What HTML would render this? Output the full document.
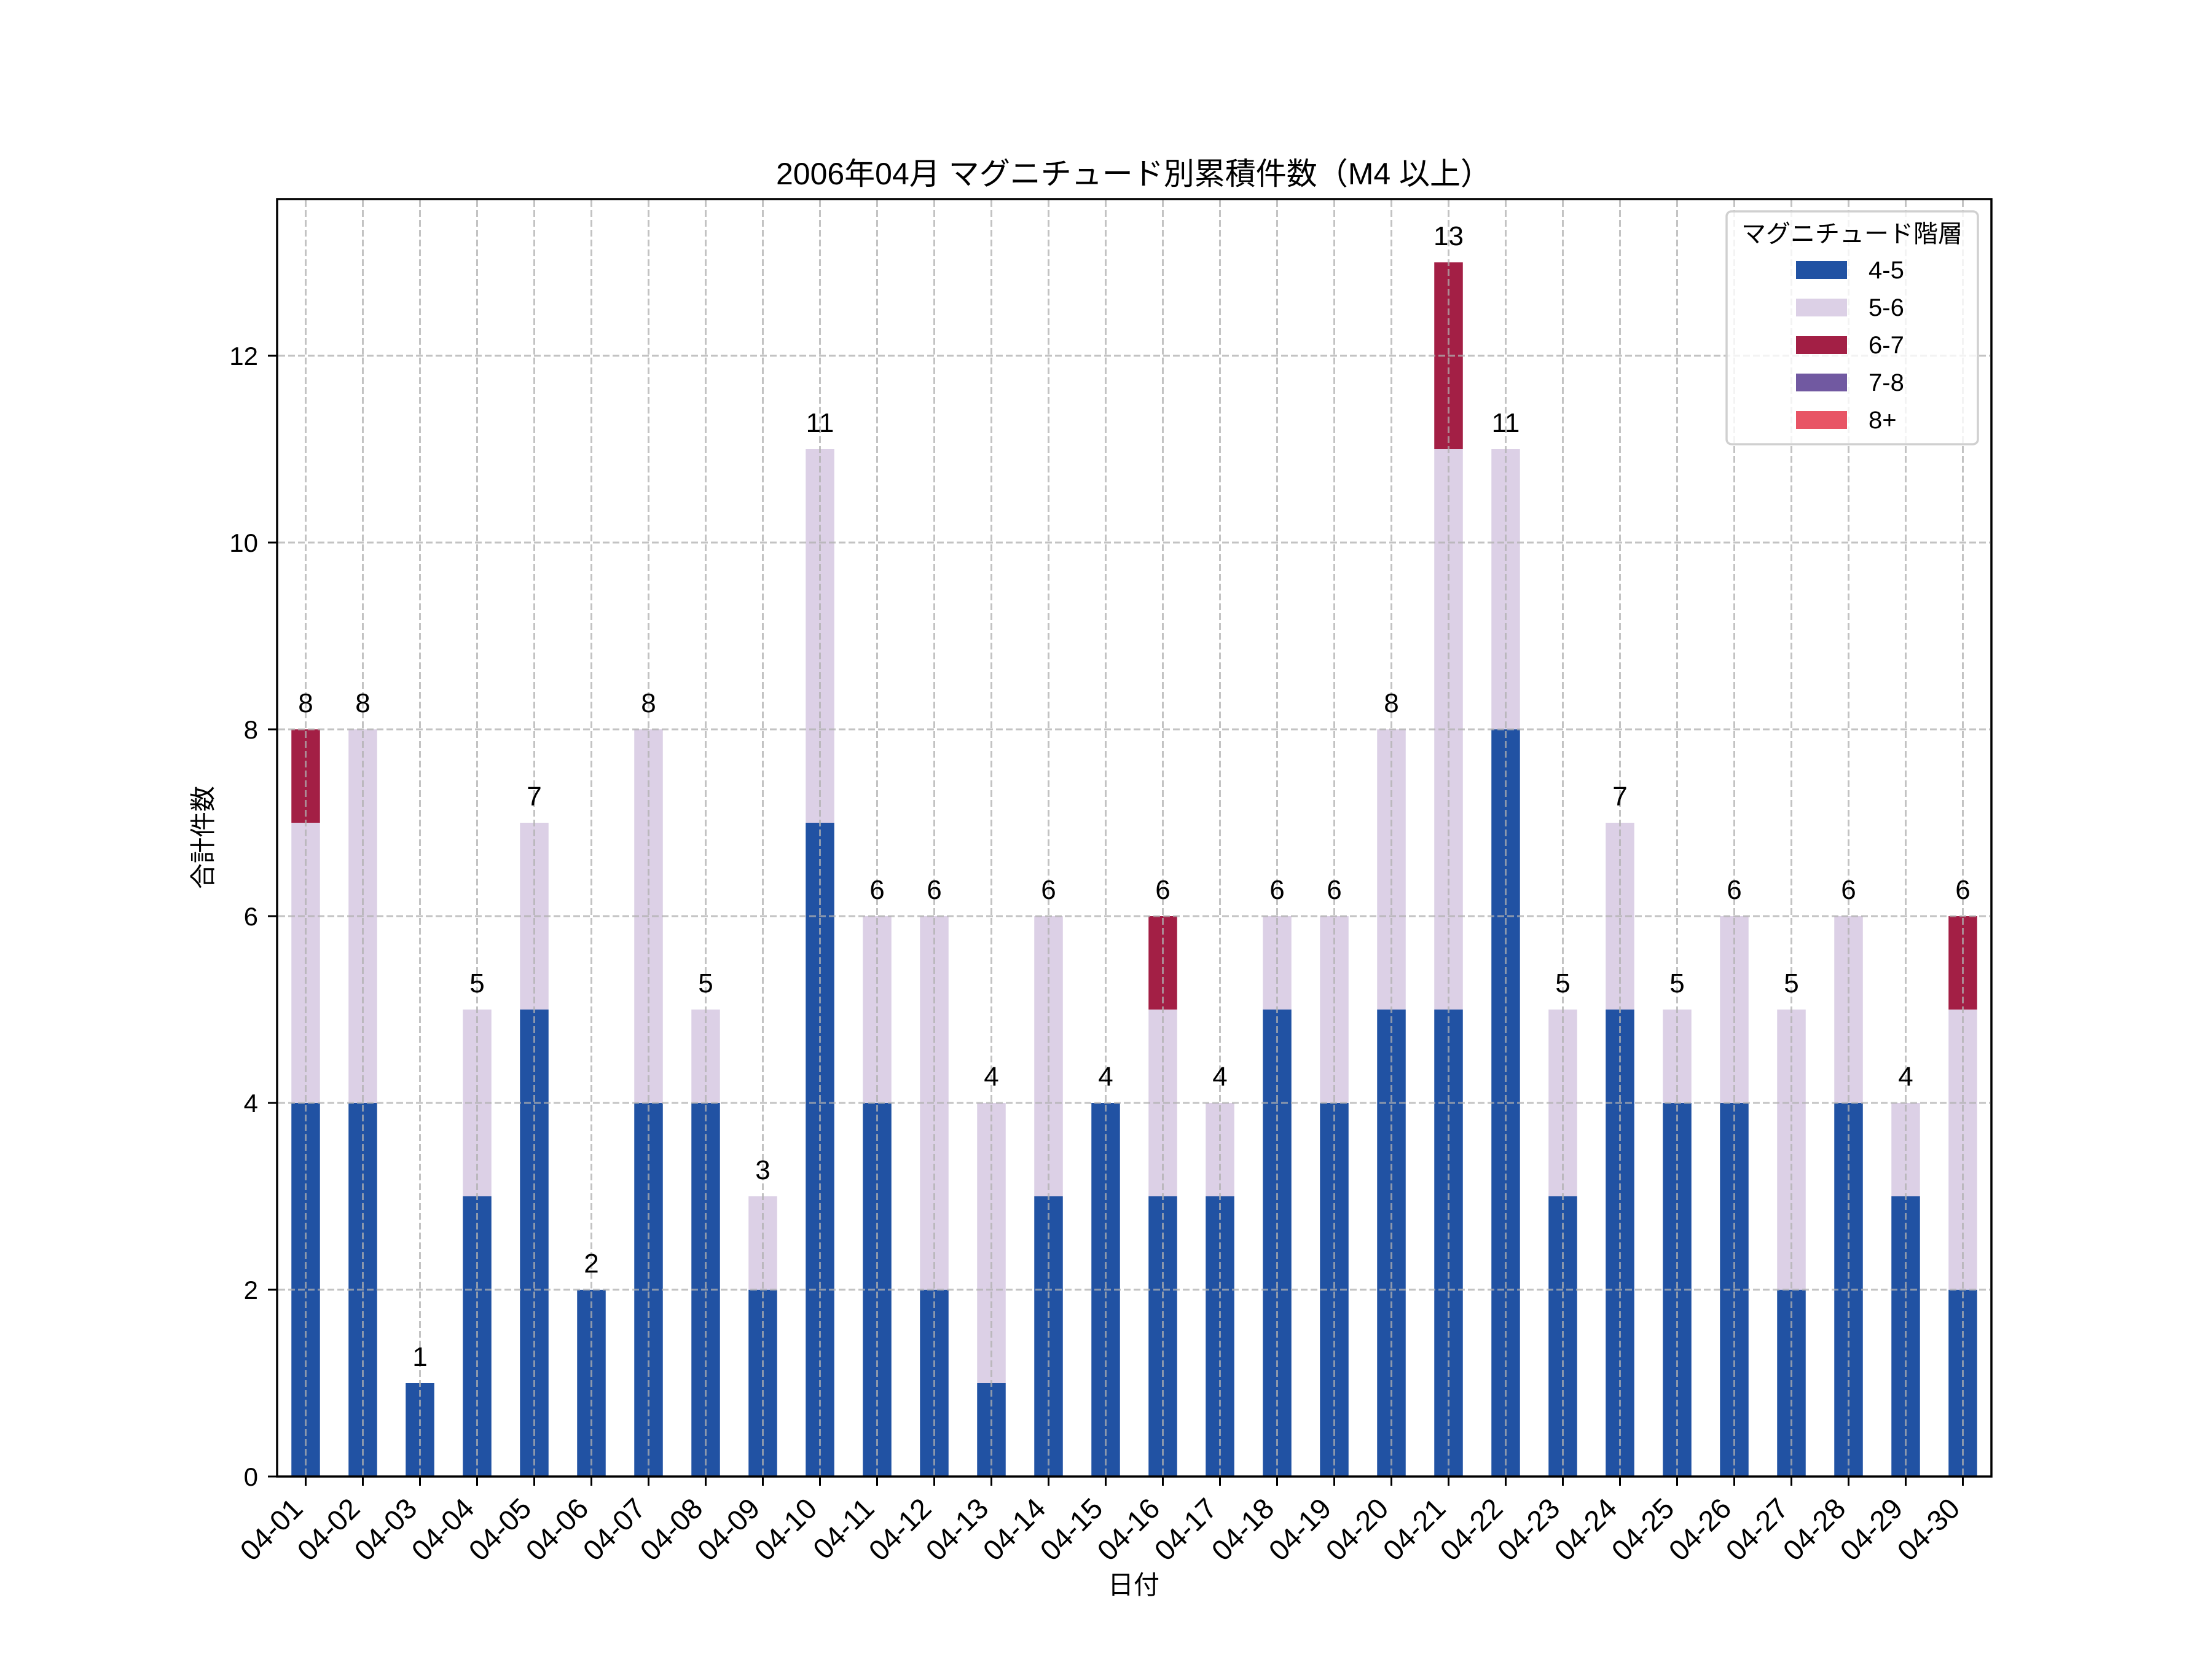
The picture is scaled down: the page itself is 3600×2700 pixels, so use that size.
<!DOCTYPE html>
<html><head><meta charset="utf-8"><style>html,body{margin:0;padding:0;background:#fff}svg{display:block}text{font-family:"Liberation Sans","Noto Sans CJK JP",sans-serif;fill:#000}</style></head>
<body>
<svg id="s" width="3600" height="2700" xmlns="http://www.w3.org/2000/svg">
<rect width="3600" height="2700" fill="#fff"/>
<g id="bars"></g>
<g id="grid" stroke="#b0b0b0" stroke-width="3" stroke-dasharray="11,5" opacity="0.75"></g>
<rect x="451" y="324" width="2790" height="2079" fill="none" stroke="#000" stroke-width="3.5"/>
<g id="ticks"></g>
<text x="1845" y="2594" font-size="42" text-anchor="middle">日付</text>
<text x="1845" y="300" font-size="50" text-anchor="middle">2006年04月 マグニチュード別累積件数（M4 以上）</text>
<text transform="translate(345,1363) rotate(-90)" font-size="42" text-anchor="middle">合計件数</text>
<g>
<rect x="2810" y="344" width="409" height="379" rx="8" fill="#fff" fill-opacity="0.8" stroke="#d0d0d0" stroke-width="3.5"/>
<text x="3014" y="394" font-size="40" text-anchor="middle">マグニチュード階層</text>
<rect x="2923" y="425" width="83" height="29" fill="#2152a3"/><text x="3041" y="453" font-size="40">4-5</text>
<rect x="2923" y="486" width="83" height="29" fill="#dcd0e6"/><text x="3041" y="514" font-size="40">5-6</text>
<rect x="2923" y="547" width="83" height="29" fill="#a31f45"/><text x="3041" y="575" font-size="40">6-7</text>
<rect x="2923" y="608" width="83" height="29" fill="#7159a1"/><text x="3041" y="636" font-size="40">7-8</text>
<rect x="2923" y="669" width="83" height="29" fill="#e85465"/><text x="3041" y="697" font-size="40">8+</text>
</g>
</svg>
<script>
var d=[[4,3,1],[4,4,0],[1,0,0],[3,2,0],[5,2,0],[2,0,0],[4,4,0],[4,1,0],[2,1,0],[7,4,0],[4,2,0],[2,4,0],[1,3,0],[3,3,0],[4,0,0],[3,2,1],[3,1,0],[5,1,0],[4,2,0],[5,3,0],[5,6,2],[8,3,0],[3,2,0],[5,2,0],[4,1,0],[4,2,0],[2,3,0],[4,2,0],[3,1,0],[2,3,1]];
var c=["#2152a3","#dcd0e6","#a31f45"],NS="http://www.w3.org/2000/svg";
var B=document.getElementById("bars"),G=document.getElementById("grid"),T=document.getElementById("ticks"),S=document.getElementById("s");
function el(p,t,a,tx){var e=document.createElementNS(NS,t);for(var k in a)e.setAttribute(k,a[k]);if(tx!=null)e.textContent=tx;p.appendChild(e);return e;}
var k=152,y0=2403;
for(var i=0;i<30;i++){var x=451+93*(i+0.5),cum=0;
for(var j=0;j<3;j++){if(d[i][j]){el(B,"rect",{x:x-23.25,y:y0-(cum+d[i][j])*k,width:46.5,height:d[i][j]*k,fill:c[j]});cum+=d[i][j];}}
el(S,"text",{x:x,y:y0-cum*k-28,"font-size":44,"text-anchor":"middle"},String(cum));
el(G,"line",{x1:x,y1:326,x2:x,y2:2401});
el(T,"line",{x1:x,y1:2403,x2:x,y2:2418,stroke:"#000","stroke-width":3});
var dd=(i+1<10?"0":"")+(i+1);
el(T,"text",{transform:"translate("+(x-2)+",2458) rotate(-45)","font-size":47,"text-anchor":"end"},"04-"+dd);}
for(var v=0;v<=12;v+=2){var y=y0-v*k;
if(v>0)el(G,"line",{x1:453,y1:y,x2:3239,y2:y});
el(T,"line",{x1:436,y1:y,x2:451,y2:y,stroke:"#000","stroke-width":3});
el(T,"text",{x:420,y:y+15,"font-size":42,"text-anchor":"end"},String(v));}
</script>
</body></html>
